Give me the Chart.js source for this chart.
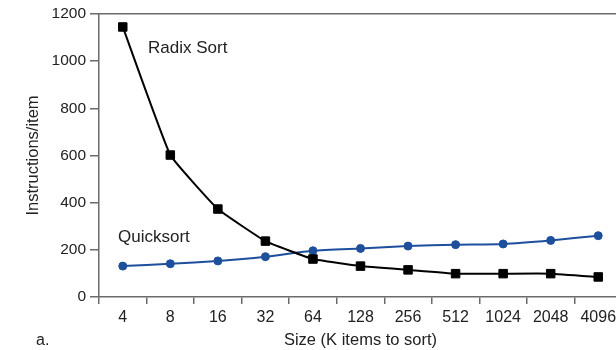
<!DOCTYPE html>
<html>
<head>
<meta charset="utf-8">
<script src="https://cdn.jsdelivr.net/npm/chart.js@4"></script>
<style>
  html, body { margin: 0; padding: 0; overflow: hidden; background: #fff; }
  #wrap { width: 632px; height: 350px; }
</style>
</head>
<body>
<div id="wrap"><canvas id="sortChart" width="632" height="350"></canvas></div>
<script>
var sizes = ['4', '8', '16', '32', '64', '128', '256', '512', '1024', '2048', '4096'];
var radixSort = [1145, 602, 373, 237, 161, 131, 115, 99, 99, 99, 85];
var quickSort = [131, 141, 153, 171, 196, 206, 216, 222, 225, 240, 260];
var yTicks = [0, 200, 400, 600, 800, 1000, 1200];

var axisGray = '#6b6b6b';
var font = "'Liberation Sans', Arial, sans-serif";

// text labels placed on the plot, plus the panel letter
var notes = {
    id: 'notes',
    afterDraw: function (chart) {
        var c = chart.ctx;
        c.save();
        c.fillStyle = '#222';
        c.font = '17px ' + font;
        c.textBaseline = 'middle';
        c.fillText('Radix Sort', 148, 48);
        c.fillText('Quicksort', 118, 237);
        c.font = '16px ' + font;
        c.fillText('a.', 36, 341);
        c.restore();
    }
};

var ctx = document.getElementById('sortChart').getContext('2d');
var sortChart = new Chart(ctx, {
    type: 'line',
    data: {
        labels: sizes,
        datasets: [{
            label: 'Radix Sort',
            data: radixSort,
            borderColor: '#000',
            backgroundColor: '#000',
            borderWidth: 2,
            pointStyle: 'rect',
            pointRadius: 6,
            pointBorderWidth: 1,
            tension: 0.1
        }, {
            label: 'Quicksort',
            data: quickSort,
            borderColor: '#1d4f9c',
            backgroundColor: '#1d4f9c',
            borderWidth: 2,
            pointStyle: 'circle',
            pointRadius: 4,
            pointBorderWidth: 1,
            tension: 0.2
        }]
    },
    options: {
        responsive: false,
        animation: false,
        layout: { padding: { top: 14, right: 10, left: 0, bottom: 0 } },
        plugins: { legend: { display: false }, tooltip: { enabled: false } },
        scales: {
            x: {
                offset: true,
                grid: { offset: true, drawOnChartArea: false, color: axisGray, tickLength: 7, lineWidth: 1.5 },
                border: { color: axisGray, width: 1.5 },
                ticks: { color: '#222', font: { family: font, size: 16 }, padding: 4, maxRotation: 0, autoSkip: false },
                title: { display: true, text: 'Size (K items to sort)', color: '#222', font: { family: font, size: 16.5 }, padding: { top: 4, bottom: 0 } },
                afterFit: function (s) { s.height = 53; }
            },
            xTop: {
                position: 'top',
                grid: { display: false },
                border: { color: axisGray, width: 1.5 },
                ticks: { display: false },
                afterFit: function (s) { s.height = 0; }
            },
            y: {
                min: 0,
                max: 1200,
                afterBuildTicks: function (s) { s.ticks = yTicks.map(function (v) { return { value: v }; }); },
                grid: { drawOnChartArea: false, color: axisGray, tickLength: 9, lineWidth: 1.5 },
                border: { color: axisGray, width: 1.5 },
                ticks: { color: '#222', font: { family: font, size: 15.5 }, padding: 4, callback: function (v) { return String(v); } },
                title: { display: true, text: 'Instructions/item', color: '#222', font: { family: font, size: 16.5 }, padding: { top: 24, bottom: 0 } },
                afterFit: function (s) { s.width = 99; }
            }
        }
    },
    plugins: [notes]
});
</script>
</body>
</html>
